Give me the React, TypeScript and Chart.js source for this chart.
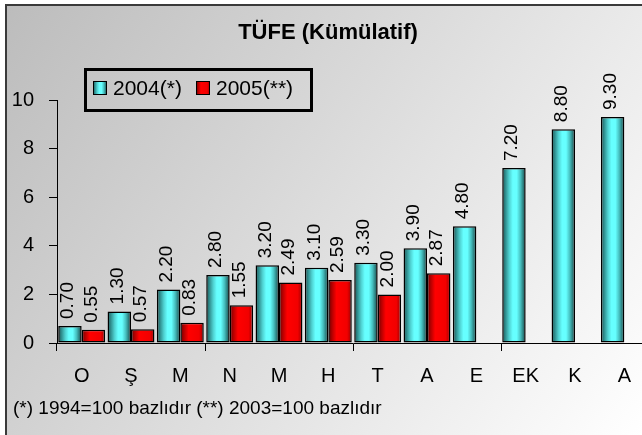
import React, { useEffect, useRef } from 'react';
import { Chart, registerables } from 'chart.js';

Chart.register(...registerables);

const categories = ['O', 'Ş', 'M', 'N', 'M', 'H', 'T', 'A', 'E', 'EK', 'K', 'A'];
const series2004 = [0.7, 1.3, 2.2, 2.8, 3.2, 3.1, 3.3, 3.9, 4.8, 7.2, 8.8, 9.3];
const series2005 = [0.55, 0.57, 0.83, 1.55, 2.49, 2.59, 2.0, 2.87, null, null, null, null];
const yTicks = [0, 2, 4, 6, 8, 10];
const seriesLabels = ['2004(*)', '2005(**)'];
const titleText = 'TÜFE (Kümülatif)';
const footnoteText = '(*) 1994=100 bazlıdır (**) 2003=100 bazlıdır';

const FONT = '"Liberation Sans", Arial, sans-serif';
const CAT_PCT = 0.95;
const VIEW_W = 642;
const VIEW_H = 435;
const CANVAS_W = 649;

const cyanStops: [number, string][] = [
  [0, '#1a4f4f'],
  [0.12, '#2c8686'],
  [0.3, '#4fd2d2'],
  [0.45, '#66ffff'],
  [0.62, '#66ffff'],
  [0.78, '#46c0c0'],
  [0.9, '#2b7c7c'],
  [1, '#184848'],
];
const redStops: [number, string][] = [
  [0, '#660000'],
  [0.15, '#b00000'],
  [0.35, '#ff0000'],
  [0.8, '#f20000'],
  [1, '#9a0000'],
];

function makeGradient(ctx: CanvasRenderingContext2D, left: number, width: number, stops: [number, string][]) {
  const g = ctx.createLinearGradient(left, 0, left + width, 0);
  stops.forEach(([o, c]) => g.addColorStop(o, c));
  return g;
}

function barFill(context: any, stops: [number, string][], side: number) {
  const chart = context.chart;
  const xs = chart.scales && chart.scales.x;
  if (!xs || context.dataIndex === undefined || !xs.width) return stops[3][1];
  const center = xs.getPixelForValue(context.dataIndex);
  const cat = xs.width / categories.length;
  const bw = (cat * CAT_PCT) / 2;
  const left = side === 0 ? center - bw : center;
  return makeGradient(chart.ctx, left, bw, stops);
}

const decorPlugin = {
  id: 'decor',
  beforeDraw(chart: any) {
    const ctx = chart.ctx as CanvasRenderingContext2D;
    ctx.save();
    ctx.fillStyle = '#ffffff';
    ctx.fillRect(0, 0, chart.width, chart.height);
    const g = ctx.createLinearGradient(5, 5, VIEW_W, VIEW_H);
    g.addColorStop(0, '#bcbcbc');
    g.addColorStop(1, '#ffffff');
    ctx.fillStyle = g;
    ctx.fillRect(5, 5, chart.width + 20, chart.height + 20);
    ctx.strokeStyle = '#3a3a3a';
    ctx.lineWidth = 2;
    ctx.strokeRect(6, 5, chart.width + 40, chart.height + 40);
    ctx.restore();
  },
  afterDatasetsDraw(chart: any) {
    const ctx = chart.ctx as CanvasRenderingContext2D;
    ctx.save();
    ctx.fillStyle = '#000';
    ctx.font = `19px ${FONT}`;
    ctx.textAlign = 'left';
    ctx.textBaseline = 'middle';
    chart.data.datasets.forEach((ds: any, di: number) => {
      const meta = chart.getDatasetMeta(di);
      meta.data.forEach((el: any, i: number) => {
        const v = ds.data[i];
        if (v === null || v === undefined) return;
        ctx.save();
        ctx.translate(el.x - 2, el.y - 7);
        ctx.rotate(-Math.PI / 2);
        ctx.fillText(v.toFixed(2), 0, 0);
        ctx.restore();
      });
    });
    ctx.restore();
  },
  afterDraw(chart: any) {
    const ctx = chart.ctx as CanvasRenderingContext2D;
    ctx.save();
    ctx.fillStyle = '#000';
    // title
    ctx.font = `bold 22px ${FONT}`;
    ctx.textAlign = 'center';
    ctx.textBaseline = 'middle';
    ctx.fillText(titleText, 328, 33);
    // legend box
    ctx.strokeStyle = '#000';
    ctx.lineWidth = 3;
    ctx.strokeRect(85.5, 69.5, 226, 41);
    const items = [
      { x: 93, tx: 113, stops: cyanStops, label: seriesLabels[0] },
      { x: 196, tx: 216, stops: redStops, label: seriesLabels[1] },
    ];
    ctx.font = `21px ${FONT}`;
    ctx.textAlign = 'left';
    items.forEach((it) => {
      ctx.fillStyle = makeGradient(ctx, it.x, 14, it.stops);
      ctx.fillRect(it.x, 81, 14, 14);
      ctx.lineWidth = 1;
      ctx.strokeStyle = '#000';
      ctx.strokeRect(it.x + 0.5, 81.5, 13, 13);
      ctx.fillStyle = '#000';
      ctx.fillText(it.label, it.tx, 89);
    });
    // footnote
    ctx.font = `19px ${FONT}`;
    ctx.textAlign = 'left';
    ctx.fillText(footnoteText, 13, 409);
    ctx.restore();
  },
};

export default function App() {
  const ref = useRef<HTMLCanvasElement | null>(null);

  useEffect(() => {
    if (!ref.current) return;
    const chart = new Chart(ref.current, {
      type: 'bar',
      data: {
        labels: categories,
        datasets: [
          {
            label: seriesLabels[0],
            data: series2004,
            backgroundColor: (c: any) => barFill(c, cyanStops, 0),
            borderColor: '#000',
            borderWidth: 1.5,
            borderSkipped: false,
            categoryPercentage: CAT_PCT,
            barPercentage: 1,
          },
          {
            label: seriesLabels[1],
            data: series2005,
            backgroundColor: (c: any) => barFill(c, redStops, 1),
            borderColor: '#000',
            borderWidth: 1.5,
            borderSkipped: false,
            categoryPercentage: CAT_PCT,
            barPercentage: 1,
          },
        ],
      },
      options: {
        responsive: false,
        maintainAspectRatio: false,
        animation: false,
        layout: { padding: { top: 100, right: 0, bottom: 37, left: 0 } },
        plugins: {
          legend: { display: false },
          title: { display: false },
          tooltip: { enabled: false },
        },
        scales: {
          x: {
            grid: {
              display: true,
              drawOnChartArea: false,
              offset: true,
              tickLength: 8,
              tickWidth: 1,
              tickColor: (c: any) => (c.index % 3 === 0 ? '#000' : 'rgba(0,0,0,0)'),
            },
            border: { display: true, color: '#000', width: 1 },
            ticks: {
              color: '#000',
              font: { family: FONT, size: 20 },
              padding: 13,
              maxRotation: 0,
              autoSkip: false,
            },
            afterFit: (s: any) => {
              s.height = 55;
            },
          },
          y: {
            min: 0,
            max: 10,
            afterBuildTicks: (s: any) => {
              s.ticks = yTicks.map((v) => ({ value: v }));
            },
            grid: { drawOnChartArea: false, tickLength: 8, tickColor: '#000', tickWidth: 1 },
            border: { display: true, color: '#000', width: 1 },
            ticks: {
              color: '#000',
              font: { family: FONT, size: 20 },
              padding: 15,
            },
            afterFit: (s: any) => {
              s.width = 57;
            },
          },
        },
      },
      plugins: [decorPlugin],
    });
    return () => chart.destroy();
  }, []);

  return (
    <div
      style={{
        position: 'fixed',
        left: 0,
        top: 0,
        width: VIEW_W,
        height: VIEW_H,
        overflow: 'hidden',
        background: '#fff',
      }}
    >
      <canvas ref={ref} width={CANVAS_W} height={VIEW_H} style={{ display: 'block' }} />
    </div>
  );
}
